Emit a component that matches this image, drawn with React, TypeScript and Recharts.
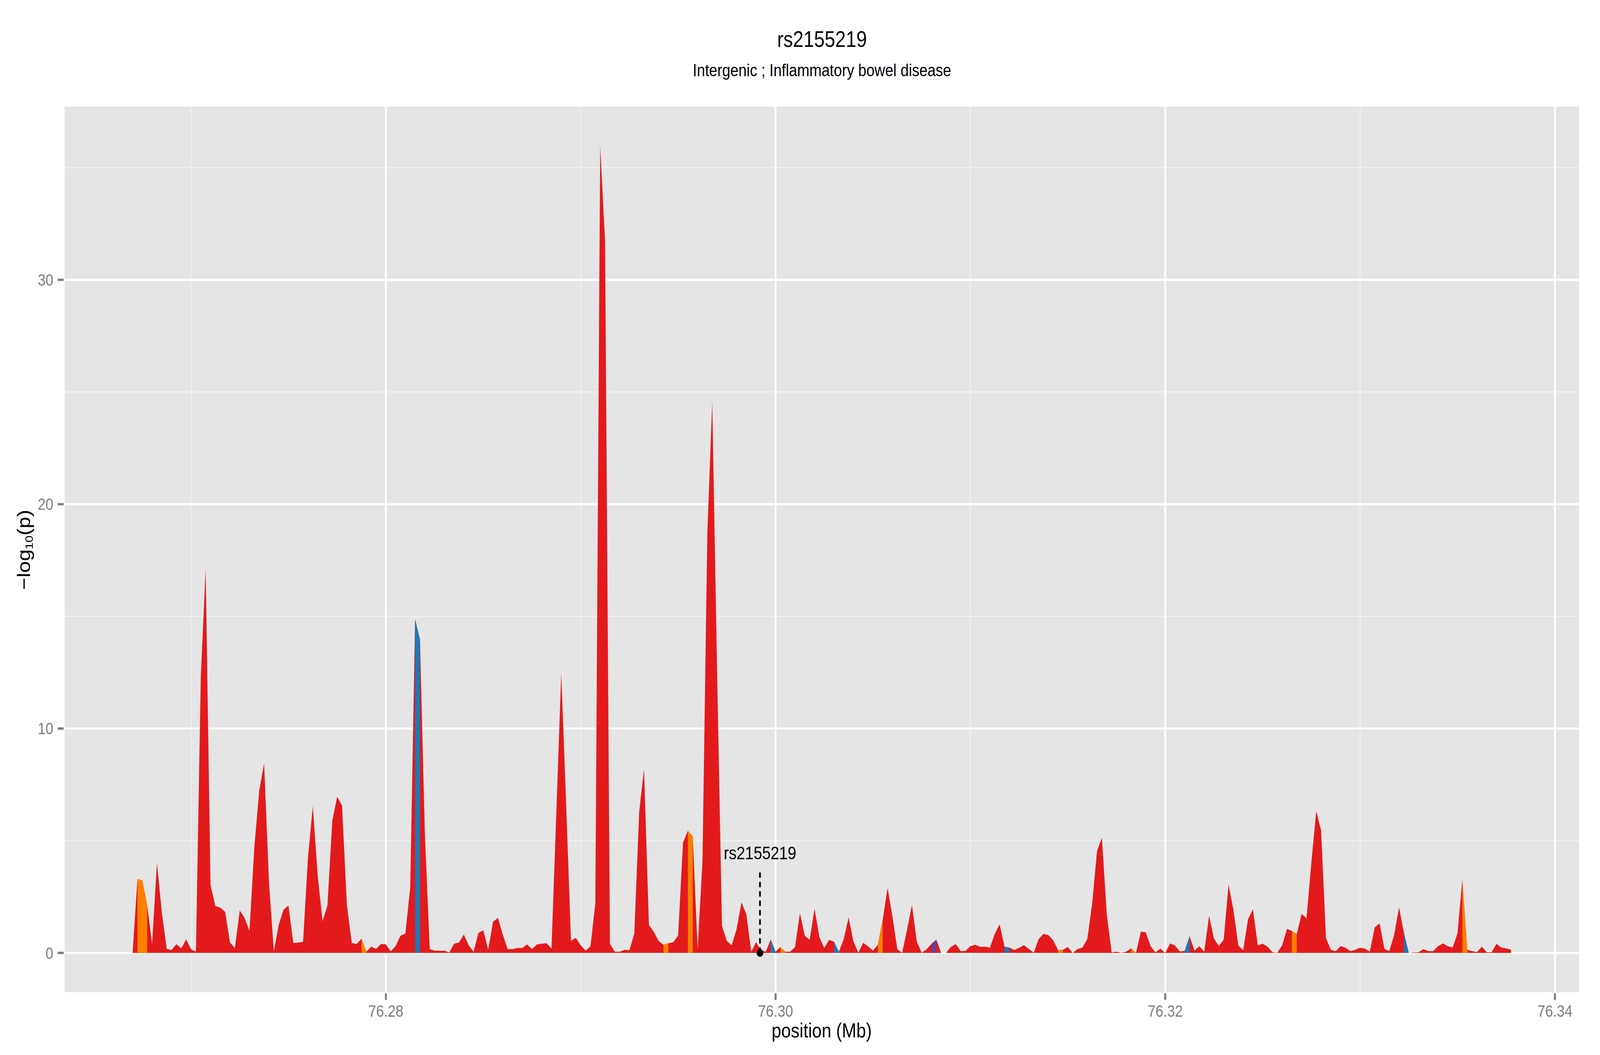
import { AreaChart, Area, XAxis, YAxis, CartesianGrid, ReferenceLine, ReferenceDot } from "recharts"

// regional association plot around rs2155219, one value every 250 bp
const START_MB = 76.267
const STEP_MB = 0.00025

const LOG_P = [
  0, 3.29, 3.23, 2.11, 0.4, 4.02, 1.8, 0.18, 0.13, 0.39,
  0.2, 0.61, 0.16, 0.06, 12.29, 17.11, 3.02, 2.09, 2.02, 1.83,
  0.46, 0.22, 1.89, 1.56, 0.98, 4.73, 7.23, 8.45, 3.15, 0.06,
  1.26, 1.93, 2.11, 0.44, 0.46, 0.49, 4.24, 6.54, 3.45, 1.41,
  2.11, 5.89, 6.96, 6.56, 2.11, 0.44, 0.4, 0.63, 0.06, 0.28,
  0.18, 0.4, 0.38, 0.07, 0.31, 0.77, 0.86, 2.93, 14.87, 13.96,
  5.32, 0.17, 0.1, 0.1, 0.1, 0.02, 0.41, 0.46, 0.82, 0.34,
  0.05, 0.89, 1.01, 0.14, 1.39, 1.56, 0.82, 0.17, 0.17, 0.22,
  0.22, 0.38, 0.17, 0.38, 0.41, 0.43, 0.19, 6.3, 12.47, 6.7,
  0.53, 0.67, 0.34, 0.1, 0.29, 2.21, 35.97, 31.7, 0.41, 0.05,
  0.05, 0.14, 0.12, 0.86, 6.28, 8.2, 1.25, 0.94, 0.53, 0.36,
  0.43, 0.48, 0.77, 4.92, 5.44, 5.2, 0.17, 4.12, 18.75, 24.56,
  12.5, 1.2, 0.53, 0.34, 1.06, 2.25, 1.73, 0.05, 0.48, 0.12,
  0.05, 0.6, 0.05, 0.26, 0.05, 0.05, 0.26, 1.77, 0.77, 0.58,
  1.97, 0.7, 0.22, 0.58, 0.5, 0.05, 0.62, 1.58, 0.5, 0.01,
  0.45, 0.29, 0.1, 0.37, 1.48, 2.9, 1.62, 0.16, 0.01, 1.04,
  2.14, 0.5, 0.01, 0.16, 0.4, 0.59, 0, 0, 0.27, 0.39,
  0.08, 0.09, 0.3, 0.36, 0.27, 0.28, 0.23, 0.85, 1.28, 0.28,
  0.24, 0.13, 0.22, 0.35, 0.18, 0.01, 0.61, 0.85, 0.79, 0.56,
  0.13, 0.14, 0.26, 0, 0.17, 0.24, 0.62, 2.2, 4.55, 5.13,
  1.71, 0.02, 0.05, 0.01, 0.05, 0.21, 0.01, 0.95, 0.92, 0.3,
  0.02, 0.19, 0, 0.42, 0.33, 0.06, 0.09, 0.75, 0.1, 0.3,
  0.05, 1.65, 0.64, 0.31, 0.59, 3.04, 1.91, 0.33, 0.12, 1.5,
  1.94, 0.34, 0.41, 0.28, 0.03, 0.01, 0.34, 1.07, 0.98, 0.84,
  1.74, 1.54, 4.03, 6.32, 5.45, 0.66, 0.14, 0.08, 0.3, 0.23,
  0.08, 0.14, 0.23, 0.19, 0.05, 1.13, 1.32, 0.18, 0.08, 0.81,
  2.03, 0.89, 0, 0.02, 0.03, 0.17, 0.08, 0.08, 0.3, 0.42,
  0.3, 0.24, 0.87, 3.28, 0.14, 0.08, 0.04, 0.28, 0.03, 0.03,
  0.4, 0.24, 0.2, 0.14,
]

// stretches (first..last point index) drawn in another LD colour
const ORANGE_RUNS = [[1, 3], [47, 48], [109, 110], [114, 115], [133, 134], [153, 154], [190, 191], [205, 206], [238, 239], [273, 274]]
const BLUE_RUNS = [[58, 59], [131, 132], [144, 145], [179, 180], [216, 217], [261, 262]]
const PURPLE_RUNS = [[164, 165]]

const X_TICKS = [76.28, 76.3, 76.32, 76.34]
const X_MINOR = [76.27, 76.29, 76.31, 76.33]
const Y_TICKS = [0, 10, 20, 30]
const Y_MINOR = [5, 15, 25, 35]

const LEAD_SNP = "rs2155219"
const LEAD_POS = 76.2992
const LEAD_LINE_TOP = 3.6

const FONT = '"Liberation Sans", Arial, Helvetica, sans-serif'
const RED = "#E31A1C"
const ORANGE = "#FF7F00"
const BLUE = "#1F78B4"
const PURPLE = "#6A3D9A"

// the plot is laid out at 4800x2700; the screenshot only keeps 4096px of width,
// so squeeze it horizontally to fit
const W = 4800
const H = 2700
const FRAME_W = Math.min(4096, typeof window !== "undefined" && window.innerWidth ? window.innerWidth : 4096)

const inRuns = (runs: number[][], i: number) => runs.some(([a, b]) => i >= a && i <= b)

const rows = LOG_P.map((p, i) => ({
  pos: START_MB + i * STEP_MB,
  p,
  orange: inRuns(ORANGE_RUNS, i) ? p : null,
  blue: inRuns(BLUE_RUNS, i) ? p : null,
  purple: inRuns(PURPLE_RUNS, i) ? p : null,
}))

// ggplot style 5% padding on both axes
const xLo = rows[0].pos
const xHi = rows[rows.length - 1].pos
const xPad = (xHi - xLo) * 0.05
const yMax = Math.max(...LOG_P)
const yPad = yMax * 0.05

const tickStyle = { fill: "#7F7F7F", fontSize: 42, fontFamily: FONT }
const tickLine = { stroke: "#7F7F7F", strokeWidth: 6 }

export default function App() {
  return (
    <div style={{ position: "absolute", left: 0, top: 0, width: FRAME_W, height: H, overflow: "hidden", background: "#fff" }}>
      <div style={{ position: "relative", width: W, height: H, transform: `scale(${FRAME_W / W}, 1)`, transformOrigin: "0 0" }}>
        <AreaChart width={W} height={H} data={rows} margin={{ top: 270, right: 60, bottom: 0, left: 0 }}>
          <CartesianGrid
            fill="#E5E5E5"
            stroke="#F2F2F2"
            strokeWidth={2.8}
            horizontalValues={Y_MINOR}
            verticalValues={X_MINOR}
          />
          <CartesianGrid stroke="#FFFFFF" strokeWidth={5.7} />
          <XAxis
            type="number"
            dataKey="pos"
            domain={[xLo - xPad, xHi + xPad]}
            ticks={X_TICKS}
            interval={0}
            allowDataOverflow
            height={158}
            axisLine={false}
            tickLine={tickLine}
            tickSize={17}
            tickMargin={13}
            tick={tickStyle}
            tickFormatter={(v) => v.toFixed(2)}
          />
          <YAxis
            type="number"
            domain={[-yPad, yMax + yPad]}
            ticks={Y_TICKS}
            interval={0}
            allowDataOverflow
            width={191}
            axisLine={false}
            tickLine={tickLine}
            tickSize={18}
            tickMargin={13}
            tick={tickStyle}
          />
          <Area dataKey="p" type="linear" baseValue={0} fill={RED} fillOpacity={1} stroke="none" dot={false} activeDot={false} isAnimationActive={false} />
          <Area dataKey="orange" type="linear" baseValue={0} fill={ORANGE} fillOpacity={1} stroke="none" connectNulls={false} dot={false} activeDot={false} isAnimationActive={false} />
          <Area dataKey="blue" type="linear" baseValue={0} fill={BLUE} fillOpacity={1} stroke="none" connectNulls={false} dot={false} activeDot={false} isAnimationActive={false} />
          <Area dataKey="purple" type="linear" baseValue={0} fill={PURPLE} fillOpacity={1} stroke="none" connectNulls={false} dot={false} activeDot={false} isAnimationActive={false} />
          <ReferenceLine
            segment={[{ x: LEAD_POS, y: 0 }, { x: LEAD_POS, y: LEAD_LINE_TOP }]}
            stroke="#000"
            strokeWidth={5}
            strokeDasharray="14 10"
            label={{ value: LEAD_SNP, position: "top", offset: 33, fill: "#000", fontSize: 46, fontFamily: FONT }}
          />
          <ReferenceDot x={LEAD_POS} y={0} r={10} fill="#000" stroke="none" />
        </AreaChart>
        <svg width={W} height={H} style={{ position: "absolute", left: 0, top: 0, pointerEvents: "none" }}>
          <text x={2466} y={120} textAnchor="middle" fontSize={57} fontFamily={FONT} fill="#000">
            rs2155219
          </text>
          <text x={2466} y={195} textAnchor="middle" fontSize={44} fontFamily={FONT} fill="#000">
            Intergenic ; Inflammatory bowel disease
          </text>
          <text x={2465} y={2655} textAnchor="middle" fontSize={52} fontFamily={FONT} fill="#000">
            position (Mb)
          </text>
          <text x={90} y={1407} transform="rotate(-90 90 1407)" textAnchor="middle" fontSize={54} fontFamily={FONT} fill="#000">
            −log
            <tspan fontSize={32} dy={8}>10</tspan>
            <tspan dy={-8}>(p)</tspan>
          </text>
        </svg>
      </div>
    </div>
  )
}
